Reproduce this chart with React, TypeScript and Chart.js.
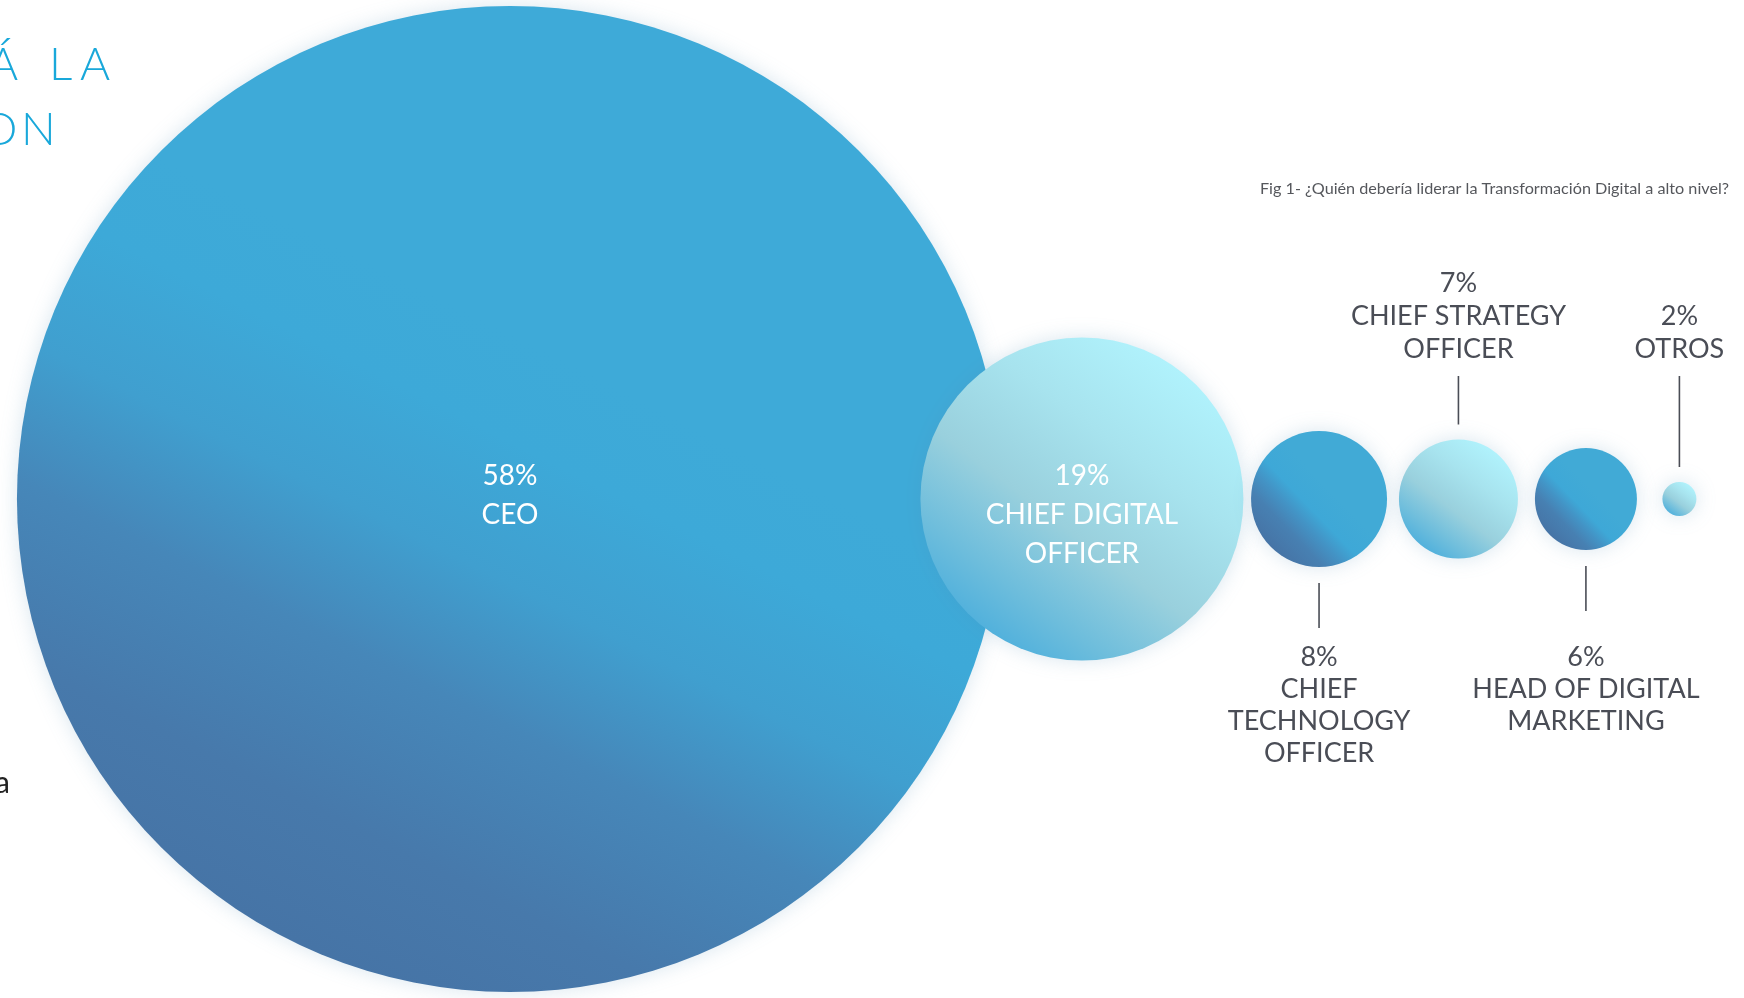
import React, { useEffect, useRef } from 'react';
import { Chart, registerables } from 'chart.js';

Chart.register(...registerables);

// ---- data ----
const CATEGORIES = [
  'CEO',
  'CHIEF DIGITAL OFFICER',
  'CHIEF TECHNOLOGY OFFICER',
  'CHIEF STRATEGY OFFICER',
  'HEAD OF DIGITAL MARKETING',
  'OTROS',
];
const VALUES = [58, 19, 8, 7, 6, 2];
const LABEL_LINES = [
  ['CEO'],
  ['CHIEF DIGITAL', 'OFFICER'],
  ['CHIEF', 'TECHNOLOGY', 'OFFICER'],
  ['CHIEF STRATEGY', 'OFFICER'],
  ['HEAD OF DIGITAL', 'MARKETING'],
  ['OTROS'],
];
const LABEL_PLACEMENT = ['inside', 'inside', 'below', 'above', 'below', 'above'];
const TONES = ['deep', 'light', 'deep', 'light', 'deep', 'light'];
// spacing between neighbouring bubbles, in radius units (first = left margin)
const GAPS = [2, -9.7, 0.9, 1.4, 2.0, 3.0];
const X_MAX = 205.2;
const CAPTION = 'Fig 1- ¿Quién debería liderar la Transformación Digital a alto nivel?';
const HEADING_LINES = ['Á LA', 'ON'];
const SIDE_TEXT = 'a';

// bubble centres packed from the values (radius proportional to value)
function packCentres(values: number[], gaps: number[]): number[] {
  const out: number[] = [];
  let prevEdge = 0;
  values.forEach((v, i) => {
    const c = prevEdge + gaps[i] + v;
    out.push(c);
    prevEdge = c + v;
  });
  return out;
}

const CENTRES = packCentres(VALUES, GAPS);

const TEXT_GREY = '#4a4d56';
const FONT = 'Lato, "Open Sans", sans-serif';

function pxPerUnit(chart: any): number {
  const xs = chart.scales && chart.scales.x;
  if (!xs) return 8.5;
  const k = (xs.right - xs.left) / (xs.max - xs.min);
  return isFinite(k) && k > 0 ? k : 8.5;
}

function bubbleFill(ctx: any) {
  const chart = ctx.chart;
  const i = ctx.dataIndex;
  const tone = TONES[i];
  const fallback = tone === 'deep' ? '#3fa9d6' : '#a6e2ec';
  if (ctx.type !== 'data' || !chart.scales || !chart.scales.x || !chart.scales.y) return fallback;
  const raw = ctx.raw;
  const cx = chart.scales.x.getPixelForValue(raw.x);
  const cy = chart.scales.y.getPixelForValue(raw.y);
  const r = raw.v * pxPerUnit(chart);
  if (![cx, cy, r].every((n) => isFinite(n))) return fallback;
  const c = chart.ctx as CanvasRenderingContext2D;
  if (tone === 'deep') {
    if (i === 0) {
      const dx = -0.45, dy = 0.89;
      const g = c.createLinearGradient(cx + dx * r, cy + dy * r, cx - dx * r * 0.3, cy - dy * r * 0.3);
      g.addColorStop(0, '#4674a6');
      g.addColorStop(0.2, '#4779ab');
      g.addColorStop(0.45, '#4687b9');
      g.addColorStop(0.65, '#409fcf');
      g.addColorStop(0.85, '#3da9d8');
      g.addColorStop(1, '#3eaad8');
      return g;
    }
    const dx = -0.72, dy = 0.69;
    const g = c.createLinearGradient(cx + dx * r, cy + dy * r, cx - dx * r * 0.2, cy - dy * r * 0.2);
    g.addColorStop(0, '#4674a6');
    g.addColorStop(0.3, '#4780b2');
    g.addColorStop(0.5, '#4393c5');
    g.addColorStop(0.68, '#3ea8d7');
    g.addColorStop(1, '#41aad6');
    return g;
  }
  const dx = -0.6, dy = 0.8;
  const g = c.createLinearGradient(cx + dx * r, cy + dy * r, cx - dx * r, cy - dy * r);
  g.addColorStop(0, '#52b1dc');
  g.addColorStop(0.15, '#6dbddc');
  g.addColorStop(0.4, '#99d0dd');
  g.addColorStop(0.7, '#a7e3ee');
  g.addColorStop(1, '#b0f2fc');
  return g;
}

const glowPlugin = {
  id: 'glow',
  beforeDatasetsDraw(chart: any) {
    const c = chart.ctx;
    c.save();
    c.shadowColor = 'rgba(80,140,180,0.22)';
    c.shadowBlur = 20;
  },
  afterDatasetsDraw(chart: any) {
    chart.ctx.restore();
  },
};

const labelPlugin = {
  id: 'bubbleLabels',
  afterDatasetsDraw(chart: any) {
    const c = chart.ctx as CanvasRenderingContext2D;
    const meta = chart.getDatasetMeta(0);
    c.save();
    c.textAlign = 'center';
    c.textBaseline = 'alphabetic';
    meta.data.forEach((el: any, i: number) => {
      const { x, y } = el.getProps(['x', 'y'], true);
      const r = el.options.radius;
      const lines = [VALUES[i] + '%', ...LABEL_LINES[i]];
      const place = LABEL_PLACEMENT[i];
      if (place === 'inside') {
        const fs = 28;
        c.font = `normal ${fs}px ${FONT}`;
        c.fillStyle = '#ffffff';
        lines.forEach((t, k) => {
          const centre = y - 24 + k * 39;
          c.fillText(t, x, centre + fs * 0.358);
        });
      } else {
        const fs = 27;
        c.font = `normal ${fs}px ${FONT}`;
        c.fillStyle = TEXT_GREY;
        c.strokeStyle = TEXT_GREY;
        c.lineWidth = 1.6;
        if (place === 'above') {
          const n = lines.length;
          lines.forEach((t, k) => {
            const centre = y - 151 - (n - 1 - k) * 33;
            c.fillText(t, x, centre + fs * 0.358);
          });
          c.beginPath();
          c.moveTo(x, y - 123);
          c.lineTo(x, y - r - 15);
          c.stroke();
        } else {
          lines.forEach((t, k) => {
            const centre = y + 157 + k * 32;
            c.fillText(t, x, centre + fs * 0.358);
          });
          c.beginPath();
          c.moveTo(x, y + r + 16);
          c.lineTo(x, y + r + 61);
          c.stroke();
        }
      }
    });
    c.restore();
  },
};

const textPlugin = {
  id: 'pageText',
  afterDraw(chart: any) {
    const c = chart.ctx as CanvasRenderingContext2D;
    const W = chart.width;
    c.save();
    // caption
    c.font = `normal 16.2px ${FONT}`;
    c.fillStyle = '#55575c';
    c.textAlign = 'right';
    c.textBaseline = 'alphabetic';
    c.fillText(CAPTION, W - 15, 194);

    // heading fragments (cut by left edge)
    c.font = `300 46px ${FONT}`;
    c.fillStyle = '#19a8da';
    c.textAlign = 'left';
    const drawGlyphs = (glyphs: string[], lefts: number[], base: number) => {
      glyphs.forEach((g, k) => {
        const m = c.measureText(g);
        c.fillText(g, lefts[k] + m.actualBoundingBoxLeft, base);
      });
    };
    const l1 = HEADING_LINES[0].replace(/ /g, '').split('');
    const l2 = HEADING_LINES[1].split('');
    drawGlyphs(l1, [-12, 53, 80], 80);
    drawGlyphs(l2, [-17, 25], 145);

    // cut-off side text
    c.font = `normal 30px ${FONT}`;
    c.fillStyle = '#222222';
    const m = c.measureText(SIDE_TEXT);
    c.fillText(SIDE_TEXT, 8 - m.actualBoundingBoxRight, 793);
    c.restore();
  },
};

export default function App() {
  const ref = useRef<HTMLCanvasElement | null>(null);
  useEffect(() => {
    if (!ref.current) return;
    const chart = new Chart(ref.current, {
      type: 'bubble',
      data: {
        labels: CATEGORIES,
        datasets: [
          {
            label: 'Liderazgo',
            data: VALUES.map((v, i) => ({ x: CENTRES[i], y: 0, v })) as any,
            backgroundColor: bubbleFill as any,
            borderWidth: 0,
            radius: ((ctx: any) => (ctx.raw ? ctx.raw.v * pxPerUnit(ctx.chart) : 3)) as any,
            hoverRadius: 0,
            clip: false as any,
          },
        ],
      },
      options: {
        responsive: false,
        animation: false,
        events: [],
        layout: { padding: 0, autoPadding: false },
        scales: {
          x: { type: 'linear', min: 0, max: X_MAX, display: false },
          y: { type: 'linear', min: -1, max: 1, display: false },
        },
        plugins: {
          legend: { display: false },
          tooltip: { enabled: false },
        },
      },
      plugins: [glowPlugin, labelPlugin, textPlugin],
    });
    return () => chart.destroy();
  }, []);

  return (
    <div style={{ position: 'fixed', left: 0, top: 0, width: 1744, height: 998, background: '#ffffff' }}>
      <canvas ref={ref} width={1744} height={998} style={{ display: 'block', width: 1744, height: 998 }} />
    </div>
  );
}
